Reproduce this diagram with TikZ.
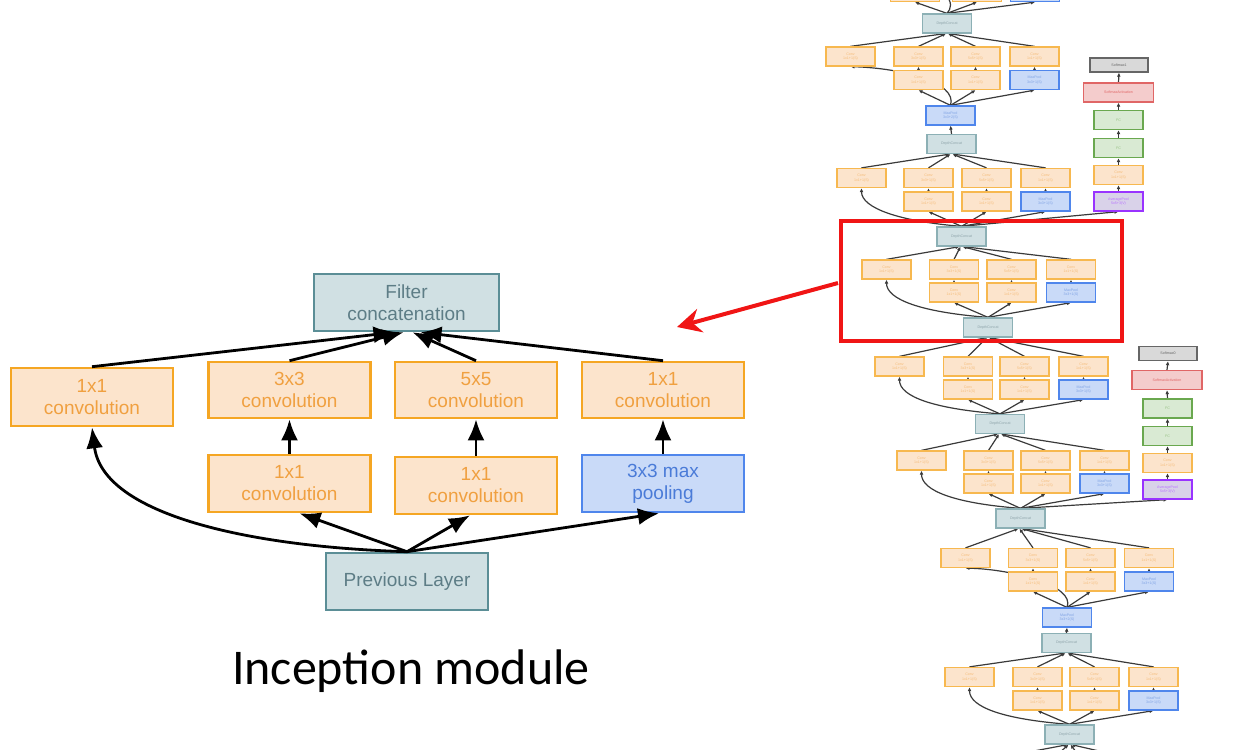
\documentclass[tikz,border=0pt]{standalone}
\usepackage{fontspec}
\setmainfont{Carlito}
\newfontfamily\hv{Liberation Sans}
\usetikzlibrary{arrows.meta}
\pgfdeclarelayer{background}
\pgfsetlayers{background,main}
\definecolor{orB}{HTML}{F5A623}
\definecolor{orF}{HTML}{FCE4CC}
\definecolor{orT}{HTML}{F0A040}
\definecolor{blB}{HTML}{4F86EC}
\definecolor{blF}{HTML}{C9DAF8}
\definecolor{blT}{HTML}{4A7BD8}
\definecolor{tlB}{HTML}{5B8E96}
\definecolor{tlF}{HTML}{D0E0E3}
\definecolor{tlT}{HTML}{5D7D86}
\definecolor{grB}{HTML}{6AA84F}
\definecolor{grF}{HTML}{D9EAD3}
\definecolor{rdB}{HTML}{E06666}
\definecolor{rdF}{HTML}{F4CCCC}
\definecolor{puB}{HTML}{9933FF}
\definecolor{puF}{HTML}{D9D2E9}
\definecolor{gyB}{HTML}{666666}
\definecolor{gyF}{HTML}{D9D9D9}
\definecolor{arrc}{HTML}{3A3A3A}
\definecolor{hlred}{HTML}{F01515}
\tikzset{
 bigbox/.style={draw, line width=2.6pt, minimum width=162pt, minimum height=57pt, inner sep=0pt, align=center, font=\hv\fontsize{19}{22}\selectfont},
 bor/.style={bigbox, draw=orB, fill=orF, text=orT},
 bbl/.style={bigbox, draw=blB, fill=blF, text=blT},
 btl/.style={bigbox, draw=tlB, fill=tlF, text=tlT},
 barr/.style={line width=2.8pt, -{Latex[length=21pt,width=17pt]}},
 smbox/.style={draw, line width=1.3pt, minimum width=49pt, minimum height=19pt, inner sep=0pt, align=center, font=\hv\fontsize{3.6}{4.5}\selectfont},
 cv/.style={smbox, draw=orB!80, fill=orF, text=orT!70},
 mpb/.style={smbox, draw=blB, fill=blF, text=blT!70},
 dcs/.style={smbox, draw=tlB!70, fill=tlF, text=tlT!70},
 fcs/.style={smbox, draw=grB, fill=grF, text=grB!70},
 rds/.style={smbox, draw=rdB, fill=rdF, text=rdB, minimum width=70pt},
 pus/.style={smbox, draw=puB, fill=puF, text=puB!70},
 gys/.style={smbox, draw=gyB, fill=gyF, text=gyB, minimum width=58pt, minimum height=14pt},
 sarr/.style={line width=1.2pt, draw=arrc, -{Latex[length=4pt,width=3.8pt]}},
 sline/.style={line width=1.2pt, draw=arrc},
}
\newcommand{\incmod}[9]{%
 \node[cv] (#1a) at (#6,#4) {Conv\\1x1+1(S)};
 \node[cv] (#1b) at (#7,#4) {Conv\\3x3+1(S)};
 \node[cv] (#1c) at (#8,#4) {Conv\\5x5+1(S)};
 \node[cv] (#1d) at (#9,#4) {Conv\\1x1+1(S)};
 \node[cv] (#1e) at (#7,#5) {Conv\\1x1+1(S)};
 \node[cv] (#1f) at (#8,#5) {Conv\\1x1+1(S)};
 \node[mpb] (#1g) at (#9,#5) {MaxPool\\3x3+1(S)};
 \begin{pgfonlayer}{background}
 \draw[sarr] (#1a.north) -- ([xshift=-2pt]#3.south);
 \draw[sarr] (#1b.north) -- ([xshift=-1pt]#3.south);
 \draw[sarr] (#1c.north) -- ([xshift=1pt]#3.south);
 \draw[sarr] (#1d.north) -- ([xshift=2pt]#3.south);
 \draw[sarr] (#1e.north) -- (#1b.south);
 \draw[sarr] (#1f.north) -- (#1c.south);
 \draw[sarr] (#1g.north) -- (#1d.south);
 \draw[sarr] (#2.north) -- (#1e.south);
 \draw[sarr] (#2.north) -- (#1f.south);
 \draw[sarr] (#2.north) -- (#1g.south);
 \end{pgfonlayer}
}
\begin{document}
\begin{tikzpicture}[x=1pt,y=-1pt]
\useasboundingbox (0,0) rectangle (1243,750);
\clip (0,0) rectangle (1243,750);
% ---------------- left: inception module ----------------
\node[btl] (fc) at (406.5,302.5) [minimum width=185pt] {Filter\\concatenation};
\node[bor] (c1) at (92,397) [minimum height=58pt] {1x1\\convolution};
\node[bor] (c3) at (289.5,390) [minimum height=56pt] {3x3\\convolution};
\node[bor] (c5) at (476,390) [minimum height=56pt] {5x5\\convolution};
\node[bor] (c1r) at (663,390) [minimum height=56pt] {1x1\\convolution};
\node[bor] (r3) at (289.5,483.5) {1x1\\convolution};
\node[bor] (r5) at (476,485.5) {1x1\\convolution};
\node[bbl] (mpl) at (663,483.5) {3x3 max\\pooling};
\node[btl] (prev) at (407,581.5) {Previous Layer};
\draw[barr] (c1.north) -- ([xshift=-12pt]fc.south);
\draw[barr] (c3.north) -- ([xshift=-3pt]fc.south);
\draw[barr] (c5.north) -- ([xshift=6pt]fc.south);
\draw[barr] (c1r.north) -- ([xshift=14pt]fc.south);
\draw[barr] (r3.north) -- (c3.south);
\draw[barr] (r5.north) -- (c5.south);
\draw[barr] (mpl.north) -- (c1r.south);
\draw[barr] (prev.north) -- ([xshift=10pt]r3.south);
\draw[barr] (prev.north) -- ([xshift=-6pt]r5.south);
\draw[barr] (prev.north) -- ([xshift=-4pt]mpl.south);
\draw[barr] (prev.north) .. controls (250,547) and (103,515) .. (c1.south);
\node[font=\fontsize{50}{60}\selectfont, anchor=base] (title) at (411,684) {Inception module};
% ---------------- right: network column ----------------
\node[dcs] (dc0) at (947,23.5) {DepthConcat};
\node[mpb] (mp1) at (950.5,115.5) {MaxPool\\3x3+2(S)};
\node[dcs] (dc1) at (951.5,144) {DepthConcat};
\node[dcs] (dc2) at (961.5,236.5) {DepthConcat};
\node[dcs] (dc3) at (988,327.5) {DepthConcat};
\node[dcs] (dc4) at (1000,424) {DepthConcat};
\node[dcs] (dc5) at (1020.5,518.5) {DepthConcat};
\node[mpb] (mp2) at (1067,617.5) {MaxPool\\3x3+2(S)};
\node[dcs] (dc6) at (1066.5,643) {DepthConcat};
\node[dcs] (dc7) at (1069.5,734.5) {DepthConcat};
\incmod{ma}{mp1}{dc0}{56.5}{80}{850.5}{918.5}{975.5}{1034.5}
\incmod{mb}{dc2}{dc1}{178}{201.5}{861.5}{928.5}{986.5}{1045.5}
\incmod{mc}{dc3}{dc2}{269.5}{292.5}{886.5}{954}{1011.5}{1071}
\incmod{md}{dc4}{dc3}{366.5}{389.5}{899.5}{968}{1024.5}{1083.5}
\incmod{me}{dc5}{dc4}{460.5}{483.5}{921.5}{988.5}{1045.5}{1104.5}
\incmod{mf}{mp2}{dc5}{558}{581.5}{965.5}{1033}{1090.5}{1149}
\incmod{mg}{dc7}{dc6}{677}{700.5}{969.5}{1037.5}{1094.5}{1153.5}
% partial module above the top (only bottom edges visible)
\node[cv] (tpe) at (915,-8) {};
\node[cv] (tpf) at (977,-8) {};
\node[mpb] (tpg) at (1035,-8) {};
\coordinate (tpa) at (900,-25);
\coordinate (bt1) at (960,765);
\coordinate (bt2) at (1040,770);
\coordinate (bt3) at (1090,770);
\coordinate (bt4) at (1160,765);
% auxiliary classifiers
\node[pus] (ap1) at (1118.5,201.5) {AveragePool\\5x5+3(V)};
\node[cv] (cx1) at (1118.5,175) {Conv\\1x1+1(S)};
\node[fcs] (fa1) at (1118.5,148) {FC};
\node[fcs] (fb1) at (1118.5,120) {FC};
\node[rds] (sa1) at (1118.5,92.5) {SoftmaxActivation};
\node[gys] (so1) at (1119,65) {Softmax1};
\node[pus] (ap2) at (1167.5,489.5) {AveragePool\\5x5+3(V)};
\node[cv] (cx2) at (1167.5,463) {Conv\\1x1+1(S)};
\node[fcs] (fa2) at (1167.5,436) {FC};
\node[fcs] (fb2) at (1167.5,408.5) {FC};
\node[rds] (sa2) at (1167,380) {SoftmaxActivation};
\node[gys] (so2) at (1168,353.5) {Softmax0};
\begin{pgfonlayer}{background}
\draw[sarr] (dc1.north) -- (mp1.south);
\draw[sarr] (dc6.north) -- (mp2.south);
\draw[sarr] (mp1.north) .. controls (958,82) and (900,68) .. (maa.south);
\draw[sarr] (mp2.north) .. controls (1076,585) and (1010,569) .. (mfa.south);
\draw[sarr] (dc2.north) .. controls +(-62,-5) and +(0,20) .. (mba.south);
\draw[sarr] (dc3.north) .. controls +(-66,-5) and +(0,20) .. (mca.south);
\draw[sarr] (dc4.north) .. controls +(-66,-5) and +(0,20) .. (mda.south);
\draw[sarr] (dc5.north) .. controls +(-66,-5) and +(0,20) .. (mea.south);
\draw[sarr] (dc7.north) .. controls +(-66,-5) and +(0,20) .. (mga.south);
\draw[sarr] (dc0.north) -- (tpe.south);
\draw[sarr] (dc0.north) -- (tpf.south);
\draw[sarr] (dc0.north) -- (tpg.south);
\draw[sline] (dc0.north) .. controls (956,4) and (950,-14) .. (tpa);
\draw[sarr] (bt1) -- ([xshift=-2pt]dc7.south);
\draw[sarr] (bt2) -- ([xshift=-1pt]dc7.south);
\draw[sarr] (bt3) -- ([xshift=1pt]dc7.south);
\draw[sarr] (bt4) -- ([xshift=2pt]dc7.south);
\draw[sarr] (dc2.north) -- (ap1.south);
\draw[sarr] (dc5.north) -- (ap2.south);
\draw[sarr] (ap1.north) -- (cx1.south);
\draw[sarr] (cx1.north) -- (fa1.south);
\draw[sarr] (fa1.north) -- (fb1.south);
\draw[sarr] (fb1.north) -- (sa1.south);
\draw[sarr] (sa1.north) -- (so1.south);
\draw[sarr] (ap2.north) -- (cx2.south);
\draw[sarr] (cx2.north) -- (fa2.south);
\draw[sarr] (fa2.north) -- (fb2.south);
\draw[sarr] (fb2.north) -- (sa2.south);
\draw[sarr] (sa2.north) -- (so2.south);
\end{pgfonlayer}
% highlight
\draw[hlred, line width=4pt] (841,221) rectangle (1122,341);
\coordinate (hlstart) at (838,283);
\coordinate (hlend) at (677,327);
\draw[hlred, line width=4pt, -{Stealth[length=24pt,width=24pt,inset=8pt]}] (hlstart) -- (hlend);
\end{tikzpicture}
\end{document}
